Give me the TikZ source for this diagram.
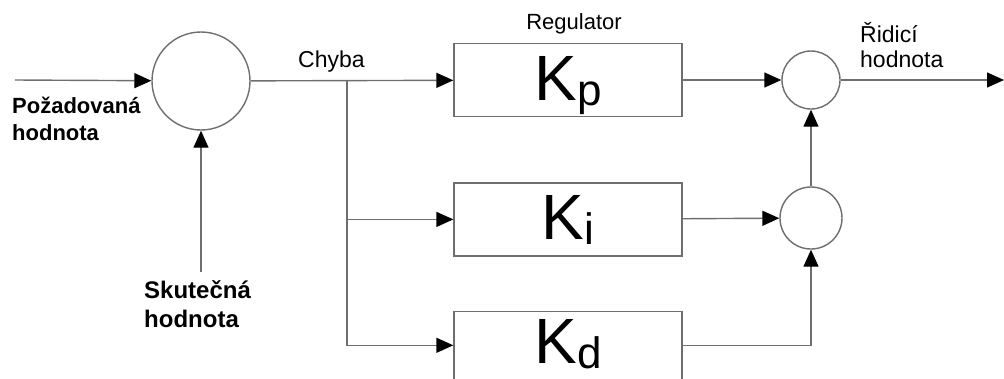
\documentclass[tikz,border=0pt]{standalone}
\usepackage{fontspec}
\setmainfont{Liberation Sans}
\usepackage{tikz}
\usetikzlibrary{arrows.meta, positioning}
\definecolor{wire}{RGB}{110,110,110}
\newcommand{\gain}[1]{\fontsize{64}{64}\selectfont K\raisebox{-5pt}{\fontsize{44}{44}\selectfont #1}}
\tikzset{blk/.style={rectangle,draw=wire,line width=1.4pt,minimum width=228pt,minimum height=73pt,text height=46pt,text depth=6pt,inner sep=0pt},sumnode/.style={circle,draw=wire,line width=1.4pt,inner sep=0pt},line/.style={draw=wire,line width=1.4pt,-{Triangle[length=17pt,width=15pt,fill=black,color=black]}},lbl/.style={align=left,inner sep=0pt,anchor=base west,font=\fontsize{23}{25}\selectfont},lblb/.style={lbl,font=\bfseries\fontsize{22}{27}\selectfont}}

\begin{document}
\begin{tikzpicture}[x=1pt,y=-1pt]
\useasboundingbox (0,0) rectangle (1004,378);
\node[sumnode, minimum size=98pt] (sum) at (201,81) {};
\node[blk] (kp) at (568,80) {\gain{p}};
\node[blk, below=65pt of kp] (ki) {\gain{i}};
\node[blk, below=54pt of ki, minimum height=68pt, text depth=10pt] (kd) {\gain{d}};
\node[sumnode, minimum size=58pt] (sump) at (811,80) {};
\node[sumnode, minimum size=62pt] (sumi) at (811,218) {};
\coordinate (in) at (15,80);
\coordinate (meas) at (201,272);
\coordinate (br) at (347,80);
\coordinate (out) at (1004,80);
% last line sits on the given baseline
\node[lblb] (ref) at (12,140) {Požadovaná\\hodnota};
\node[lblb, font=\bfseries\fontsize{24}{29}\selectfont] (act) at (144,327) {Skutečná\\hodnota};
\node[lbl] (err) at (298,67) {Chyba};
\node[lbl, anchor=base, font=\fontsize{22}{25}\selectfont] (reg) at (574,29) {Regulator};
\node[lbl] (ctl) at (860,67) {Řidicí\\hodnota};
\draw[line] (in) -- (sum);
\draw[line] (meas) -- (sum);
\draw[line] (sum) -- (kp);
\draw[line] (br) |- (ki);
\draw[line] (br) |- (kd);
\draw[line] (kp) -- (sump);
\draw[line] (ki) -- (sumi);
\draw[line] (kd.east) -| (sumi);
\draw[line] (sumi) -- (sump);
\draw[line] (sump) -- (out);
\end{tikzpicture}
\end{document}
